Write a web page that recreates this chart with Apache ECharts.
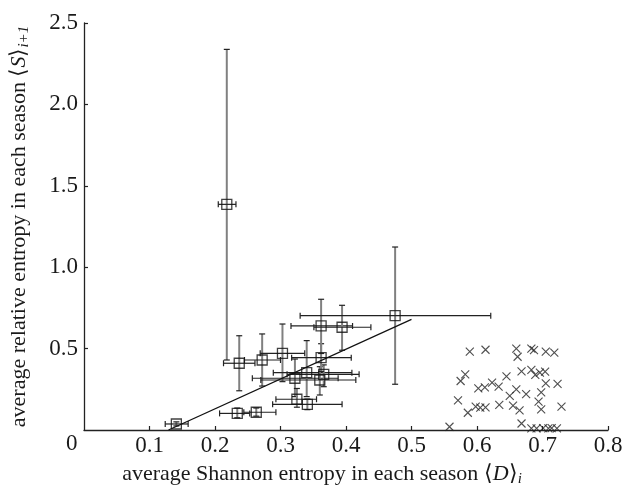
<!DOCTYPE html>
<html>
<head>
<meta charset="utf-8">
<script src="https://cdn.jsdelivr.net/npm/echarts@6/dist/echarts.min.js"></script>
<style>html,body{margin:0;padding:0;background:#fff}#c{width:633px;height:493px}</style>
</head>
<body>
<div id="c"></div>
<script>
// squares with error bars
var sqX  = [0.141, 0.234, 0.263, 0.218, 0.237, 0.272, 0.303, 0.322, 0.325, 0.340, 0.341, 0.360, 0.366, 0.362, 0.362, 0.394, 0.475];
var sqY  = [0.037, 0.102, 0.109, 1.386, 0.410, 0.430, 0.471, 0.318, 0.189, 0.352, 0.158, 0.307, 0.342, 0.444, 0.639, 0.631, 0.702];
var sqXLo = [0.124, 0.207, 0.244, 0.205, 0.213, 0.245, 0.269, 0.257, 0.293, 0.289, 0.288, 0.270, 0.310, 0.317, 0.316, 0.351, 0.330];
var sqXHi = [0.159, 0.253, 0.293, 0.232, 0.261, 0.300, 0.337, 0.388, 0.355, 0.409, 0.394, 0.415, 0.420, 0.408, 0.410, 0.438, 0.621];
var sqYLo = [0.025, 0.075, 0.085, 0.430, 0.241, 0.270, 0.297, 0.205, 0.140, 0.205, 0.125, 0.215, 0.266, 0.360, 0.470, 0.490, 0.281];
var sqYHi = [0.050, 0.135, 0.135, 2.338, 0.579, 0.590, 0.651, 0.436, 0.255, 0.549, 0.190, 0.389, 0.400, 0.530, 0.803, 0.766, 1.124];
// fitted line
var fitX = [0.129, 0.500];
var fitY = [0.000, 0.680];
// crosses
var crX = [0.558, 0.571, 0.575, 0.582, 0.586, 0.589, 0.598, 0.602, 0.605, 0.612, 0.613, 0.613, 0.623, 0.633, 0.634,
           0.660, 0.662, 0.645, 0.668, 0.660, 0.650, 0.655, 0.665, 0.668, 0.675,
           0.683, 0.687, 0.705, 0.718, 0.683, 0.689, 0.696, 0.704, 0.705, 0.723, 0.698, 0.694, 0.698, 0.729,
           0.683, 0.691, 0.701, 0.709, 0.714, 0.722];
var crY = [0.020, 0.182, 0.301, 0.342, 0.106, 0.481, 0.143, 0.256, 0.137, 0.262, 0.493, 0.139, 0.291, 0.266, 0.154,
           0.500, 0.450, 0.330, 0.360, 0.250, 0.210, 0.150, 0.120, 0.040, 0.220,
           0.500, 0.491, 0.481, 0.475, 0.369, 0.338, 0.352, 0.358, 0.287, 0.283, 0.231, 0.174, 0.127, 0.143,
           0.010, 0.010, 0.012, 0.010, 0.012, 0.010];
var xTicks = [0, 0.1, 0.2, 0.3, 0.4, 0.5, 0.6, 0.7, 0.8];
var yTicks = [0, 0.5, 1.0, 1.5, 2.0, 2.5];

var sqData = sqX.map(function (x, i) { return [x, sqY[i], sqXLo[i], sqXHi[i], sqYLo[i], sqYHi[i]]; });
var crData = crX.map(function (x, i) { return [x, crY[i]]; });
var fitData = fitX.map(function (x, i) { return [x, fitY[i]]; });

var serif = 'Liberation Serif';
var chart = echarts.init(document.getElementById('c'));

function renderErr(params, api) {
  var x = api.value(0), y = api.value(1);
  var l = api.coord([api.value(2), y]);
  var r = api.coord([api.value(3), y]);
  var b = api.coord([x, api.value(4)]);
  var t = api.coord([x, api.value(5)]);
  var cap = 3;
  var dark = { stroke: '#222', lineWidth: 1.2 };
  return {
    type: 'group',
    children: [
      { type: 'line', shape: { x1: b[0], y1: b[1], x2: t[0], y2: t[1] }, style: { stroke: '#808080', lineWidth: 2 } },
      { type: 'line', shape: { x1: l[0], y1: l[1], x2: r[0], y2: r[1] }, style: dark },
      { type: 'line', shape: { x1: t[0] - cap, y1: t[1], x2: t[0] + cap, y2: t[1] }, style: dark },
      { type: 'line', shape: { x1: b[0] - cap, y1: b[1], x2: b[0] + cap, y2: b[1] }, style: dark },
      { type: 'line', shape: { x1: l[0], y1: l[1] - cap, x2: l[0], y2: l[1] + cap }, style: dark },
      { type: 'line', shape: { x1: r[0], y1: r[1] - cap, x2: r[0], y2: r[1] + cap }, style: dark }
    ]
  };
}

var richName = {
  it: { fontFamily: serif, fontSize: 22, fontStyle: 'italic', color: '#1a1a1a' },
  sub: { fontFamily: serif, fontSize: 15, fontStyle: 'italic', color: '#1a1a1a', padding: [11, 0, 0, 0] }
};

chart.setOption({
  animation: false,
  backgroundColor: '#fff',
  grid: { left: 84, right: 25, top: 23, bottom: 63, containLabel: false, outerBoundsMode: 'none' },
  xAxis: {
    type: 'value', min: 0, max: 0.8, interval: 0.1,
    axisLine: { lineStyle: { color: '#222', width: 1.3 } },
    axisTick: { inside: true, length: 4, lineStyle: { color: '#222', width: 1.2 } },
    splitLine: { show: false },
    axisLabel: { showMinLabel: false, color: '#1a1a1a', fontFamily: serif, fontSize: 23, margin: 4,
      formatter: function (v) { return v.toFixed(1); } },
    name: 'average Shannon entropy in each season \u27e8{it|D}\u27e9{sub|i}',
    nameLocation: 'middle', nameGap: 31,
    nameTextStyle: { color: '#1a1a1a', fontFamily: serif, fontSize: 22, rich: richName, padding: [0, 48, 0, 0] }
  },
  yAxis: {
    type: 'value', min: 0, max: 2.5, interval: 0.5,
    axisLine: { lineStyle: { color: '#222', width: 1.3 } },
    axisTick: { inside: true, length: 4, lineStyle: { color: '#222', width: 1.2 } },
    splitLine: { show: false },
    axisLabel: { showMinLabel: false, color: '#1a1a1a', fontFamily: serif, fontSize: 23, margin: 6,
      formatter: function (v) { return v.toFixed(1); } },
    name: 'average relative entropy in each season \u27e8{it|S}\u27e9{sub|i+1}',
    nameLocation: 'middle', nameGap: 52,
    nameTextStyle: { color: '#1a1a1a', fontFamily: serif, fontSize: 22, rich: richName }
  },
  graphic: [
    { type: 'text', left: 66, top: 432, style: { text: '0', font: '23px "Liberation Serif"', fill: '#1a1a1a' } }
  ],
  series: [
    { type: 'custom', renderItem: renderErr, data: sqData, z: 2 },
    { type: 'line', data: fitData, symbol: 'none', lineStyle: { color: '#111', width: 1.3 }, z: 3 },
    { type: 'scatter', data: sqData, symbol: 'rect', symbolSize: 10,
      itemStyle: { color: 'rgba(0,0,0,0)', borderColor: '#111', borderWidth: 1.3 }, z: 4 },
    { type: 'scatter', data: crData, symbol: 'path://M0,0L10,10M10,0L0,10', symbolSize: 8,
      itemStyle: { color: 'rgba(0,0,0,0)', borderColor: '#222', borderWidth: 1.1 }, z: 4 }
  ]
});
</script>
</body>
</html>
